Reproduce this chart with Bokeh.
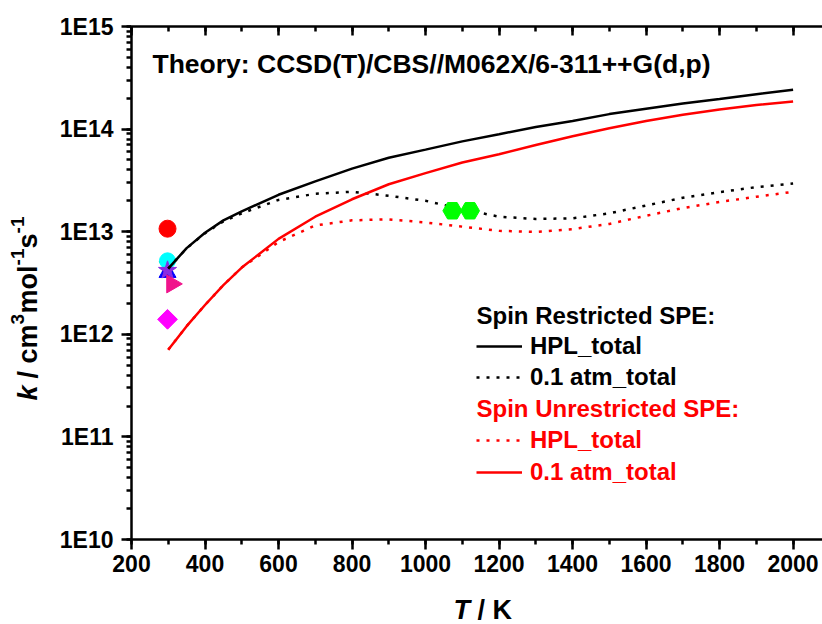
import math
from bokeh.plotting import figure
from bokeh.layouts import row, column
from bokeh.models import (Range1d, LinearAxis, SingleIntervalTicker, LogTicker,
                          CustomJSTickFormatter, Label, Legend, LegendItem)
from bokeh.embed import file_html
from bokeh.resources import INLINE

# ---------------- data ----------------
T = [300, 350, 400, 450, 500, 600, 700, 800, 900, 1000,
     1100, 1200, 1300, 1400, 1500, 1600, 1700, 1800, 1900, 2000]

# Spin restricted SPE
restricted_hpl = [4.37e12, 6.92e12, 9.77e12, 1.29e13, 1.58e13, 2.29e13, 3.09e13, 4.12e13, 5.25e13, 6.31e13,
                  7.59e13, 8.91e13, 1.05e14, 1.20e14, 1.40e14, 1.58e14, 1.78e14, 1.97e14, 2.19e14, 2.42e14]
restricted_01atm = [4.37e12, 6.90e12, 9.66e12, 1.26e13, 1.51e13, 2.04e13, 2.34e13, 2.45e13, 2.24e13, 2.00e13,
                    1.66e13, 1.40e13, 1.33e13, 1.35e13, 1.51e13, 1.80e13, 2.14e13, 2.43e13, 2.72e13, 2.95e13]
# Spin unrestricted SPE
unrestricted_hpl = [7.08e11, 1.20e12, 1.93e12, 3.02e12, 4.47e12, 7.94e12, 1.15e13, 1.29e13, 1.32e13, 1.23e13,
                    1.12e13, 1.02e13, 9.95e12, 1.06e13, 1.19e13, 1.43e13, 1.70e13, 1.95e13, 2.19e13, 2.45e13]
unrestricted_01atm = [7.08e11, 1.20e12, 1.93e12, 3.02e12, 4.47e12, 8.51e12, 1.40e13, 2.07e13, 2.90e13, 3.72e13,
                      4.73e13, 5.69e13, 7.00e13, 8.51e13, 1.02e14, 1.20e14, 1.38e14, 1.55e14, 1.72e14, 1.86e14]

# experimental / literature points
exp_T = [298, 298, 298, 298, 298, 298, 310, 298]
exp_k = [1.07e13, 4.8e12, 4.6e12, 4.0e12, 5.2e12, 4.2e12, 3.1e12, 1.4e12]
exp_marker = ["circle", "star", "inverted_triangle", "triangle", "circle", "star", "triangle", "square"]
exp_color = ["#ff0000", "#008000", "#ff8000", "#0000ff", "#00ffff", "#8a2be2", "#f0148c", "#ff00ff"]
exp_size = [17, 18, 14, 17, 16, 19, 18, 14]
exp_angle = [0, 0, 0, 0, 0, 0, -math.pi / 2, math.pi / 4]

pent_T = [1073, 1121]
pent_k = [1.6e13, 1.6e13]

x_ticks_step = 200
title_text = "Theory: CCSD(T)/CBS//M062X/6-311++G(d,p)"

FONT = "Liberation Sans"

# ---------------- main plot ----------------
p = figure(width=772, height=584, y_axis_type="log",
           x_range=Range1d(200, 2080), y_range=Range1d(1e10, 1e15),
           output_backend="svg", toolbar_location=None,
           min_border_left=81, min_border_right=0,
           min_border_top=26, min_border_bottom=45)
p.grid.visible = False
p.outline_line_color = None

xax = p.xaxis[0]
xax.ticker = SingleIntervalTicker(interval=x_ticks_step, num_minor_ticks=2)
xax.major_tick_out = 10
xax.major_tick_in = 0
xax.minor_tick_out = 5
xax.minor_tick_in = 0
xax.axis_line_width = 2.5
xax.major_tick_line_width = 2.5
xax.minor_tick_line_width = 2.5
xax.major_label_text_font = FONT
xax.major_label_text_font_style = "bold"
xax.major_label_text_font_size = "23px"
xax.major_label_text_color = "black"
xax.major_label_standoff = 5

yax = p.yaxis[0]
yax.ticker = LogTicker(desired_num_ticks=6, num_minor_ticks=10)
yax.formatter = CustomJSTickFormatter(code="return '1E' + Math.round(Math.log10(tick));")
yax.major_tick_out = 10
yax.major_tick_in = 0
yax.minor_tick_out = 5
yax.minor_tick_in = 0
yax.axis_line_width = 2.5
yax.major_tick_line_width = 2.5
yax.minor_tick_line_width = 2.5
yax.major_label_text_font = FONT
yax.major_label_text_font_style = "bold"
yax.major_label_text_font_size = "23px"
yax.major_label_text_color = "black"
yax.major_label_standoff = 8

top = LinearAxis(ticker=SingleIntervalTicker(interval=x_ticks_step, num_minor_ticks=2),
                 formatter=CustomJSTickFormatter(code="return '';"),
                 major_tick_in=9, major_tick_out=0, minor_tick_in=5, minor_tick_out=0,
                 axis_line_width=2.5, major_tick_line_width=2.5, minor_tick_line_width=2.5,
                 major_label_text_font_size="0px", major_label_standoff=0)
p.add_layout(top, "above")

for t, k, m, c, s, a in zip(exp_T, exp_k, exp_marker, exp_color, exp_size, exp_angle):
    p.scatter([t], [k], marker=m, size=s, fill_color=c, line_color=c, angle=a)

r_hpl = p.line(T, restricted_hpl, line_color="black", line_width=2.5)
r_01 = p.line(T, restricted_01atm, line_color="black", line_width=2.5, line_dash="3 7")
u_hpl = p.line(T, unrestricted_hpl, line_color="red", line_width=2.5, line_dash="3 7")
u_01 = p.line(T, unrestricted_01atm, line_color="red", line_width=2.5)

p.scatter(pent_T, pent_k, marker="hex", size=19, fill_color="#00ff00", line_color="#00ff00")

p.add_layout(Label(x=21, y=476, x_units="screen", y_units="screen", text=title_text,
                   text_font=FONT, text_font_style="bold", text_font_size="26.5px",
                   text_color="black", text_baseline="middle"))

leg_black = Legend(items=[LegendItem(label="HPL_total", renderers=[r_hpl]),
                          LegendItem(label="0.1 atm_total", renderers=[r_01])],
                   location=(345, 148.5), orientation="vertical",
                   glyph_width=46, glyph_height=26, label_height=26, spacing=3,
                   label_standoff=8, padding=0, margin=0,
                   border_line_color=None, background_fill_alpha=0,
                   label_text_font=FONT, label_text_font_style="bold",
                   label_text_font_size="24px", label_text_color="black")
leg_red = Legend(items=[LegendItem(label="HPL_total", renderers=[u_hpl]),
                        LegendItem(label="0.1 atm_total", renderers=[u_01])],
                 location=(345, 53.5), orientation="vertical",
                 glyph_width=46, glyph_height=26, label_height=26, spacing=4,
                 label_standoff=8, padding=0, margin=0,
                 border_line_color=None, background_fill_alpha=0,
                 label_text_font=FONT, label_text_font_style="bold",
                 label_text_font_size="24px", label_text_color="red")
p.add_layout(leg_black)
p.add_layout(leg_red)

p.add_layout(Label(x=345, y=224, x_units="screen", y_units="screen", text="Spin Restricted SPE:",
                   text_font=FONT, text_font_style="bold", text_font_size="24px",
                   text_color="black", text_baseline="middle"))
p.add_layout(Label(x=345, y=131, x_units="screen", y_units="screen", text="Spin Unrestricted SPE:",
                   text_font=FONT, text_font_style="bold", text_font_size="24px",
                   text_color="red", text_baseline="middle"))

# ---------------- y-axis title panel ----------------
yt = figure(width=50, height=584, x_range=Range1d(0, 1), y_range=Range1d(0, 1),
            output_backend="svg", toolbar_location=None,
            x_axis_location=None, y_axis_location=None, min_border=0)
yt.grid.visible = False
yt.outline_line_color = None
# (text, centre y from frame bottom, centre x, size, style)
ypieces = [("k", 146.5, 27.5, "27px", "bold italic"),
           ("/ cm", 188, 27.5, "27px", "bold"),
           ("3", 220.3, 16.5, "19px", "bold"),
           ("mol", 250, 27.5, "27px", "bold"),
           ("-1", 282.5, 16.5, "19px", "bold"),
           ("s", 298.5, 27.5, "27px", "bold"),
           ("-1", 314.5, 16.5, "19px", "bold")]
for txt, yy, xx, fs, st in ypieces:
    yt.add_layout(Label(x=xx, y=yy, x_units="screen", y_units="screen", text=txt,
                        angle=math.pi / 2, text_font=FONT, text_font_style=st,
                        text_font_size=fs, text_color="black",
                        text_align="center", text_baseline="middle"))

# ---------------- x-axis title panel ----------------
xt = figure(width=822, height=40, x_range=Range1d(0, 1), y_range=Range1d(0, 1),
            output_backend="svg", toolbar_location=None,
            x_axis_location=None, y_axis_location=None, min_border=0)
xt.grid.visible = False
xt.outline_line_color = None
xt.add_layout(Label(x=453, y=15, x_units="screen", y_units="screen", text="T",
                    text_font=FONT, text_font_style="bold italic", text_font_size="27px",
                    text_color="black", text_baseline="middle"))
xt.add_layout(Label(x=477, y=15, x_units="screen", y_units="screen", text="/ K",
                    text_font=FONT, text_font_style="bold", text_font_size="27px",
                    text_color="black", text_baseline="middle"))

layout = column(row(yt, p, spacing=0), xt, spacing=0)
open("out.html", "w").write(file_html(layout, INLINE))
